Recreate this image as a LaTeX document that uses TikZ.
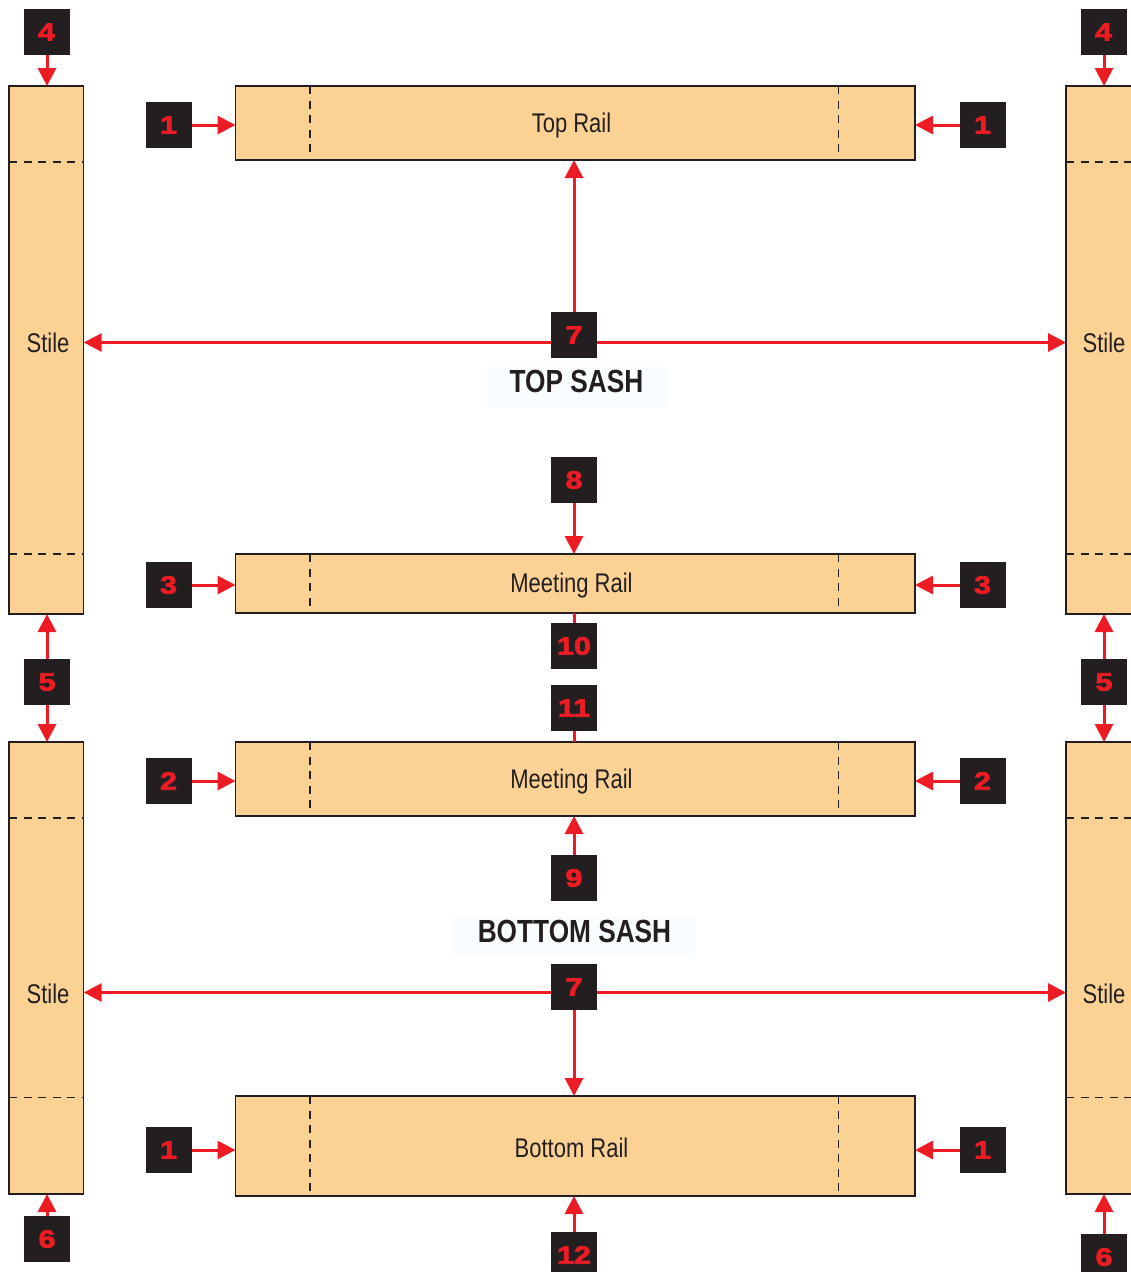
\documentclass[tikz,border=0pt]{standalone}
\usepackage{fontspec}
\usetikzlibrary{arrows.meta}
\setmainfont{Liberation Sans}
\newfontfamily\labelfont[FakeStretch=0.815]{Liberation Sans}
\newfontfamily\sashfont[FakeStretch=0.82]{Liberation Sans Bold}
\newfontfamily\badgefont[FakeBold=3,FakeStretch=1.22]{Liberation Sans Bold}
\definecolor{woodfill}{HTML}{FCD294}
\definecolor{redline}{HTML}{ED1C24}
\definecolor{badgebg}{HTML}{231F20}
\definecolor{sashbg}{HTML}{F9FDFF}
\tikzset{
  x=1pt,y=-1pt,
  wood/.style={fill=woodfill,draw=badgebg,line width=1.1pt,outer sep=0pt},
  cut/.style={draw=badgebg,line width=1.2pt,dash pattern=on 8pt off 6.5pt},
  arr/.style={draw=redline,line width=3pt,-{Triangle[length=18pt,width=18pt]}},
  tie/.style={draw=redline,line width=3pt},
  badge/.style={fill=badgebg,text=redline,minimum size=46pt,inner sep=0pt,outer sep=0pt,font=\badgefont\fontsize{25}{25}\selectfont},
  partname/.style={text=badgebg,inner sep=0pt,font=\labelfont\fontsize{27}{27}\selectfont},
  sash/.style={fill=sashbg,inner sep=0pt,outer sep=0pt,minimum height=41pt},
  sashtext/.style={text=badgebg,inner sep=0pt,font=\sashfont\fontsize{32}{32}\selectfont},
}
\newcommand{\woodbox}[5]{\node[wood,anchor=north west,minimum width=#4pt-#2pt,minimum height=#5pt-#3pt,inner sep=0pt] (#1) at (#2,#3) {};}
\begin{document}
\begin{tikzpicture}
\useasboundingbox (0,0) rectangle (1131,1272);
\clip (0,0) rectangle (1131,1272);
% stiles
\woodbox{stTL}{9}{86}{83.7}{614}
\woodbox{stTR}{1066}{86}{1141}{614}
\woodbox{stBL}{9}{742}{83.7}{1194}
\woodbox{stBR}{1066}{742}{1141}{1194}
% rails
\woodbox{railT}{235.5}{86}{915}{160}
\woodbox{railM}{235.5}{554}{915}{613}
\woodbox{railN}{235.5}{742}{915}{816}
\woodbox{railB}{235.5}{1096}{915}{1196}
% joint lines
\draw[cut] (stTL.west |- 0,162) -- (stTL.east |- 0,162);
\draw[cut] (stTL.west |- 0,554) -- (stTL.east |- 0,554);
\draw[cut] (stBL.west |- 0,818) -- (stBL.east |- 0,818);
\draw[cut] (stBL.west |- 0,1097.5) -- (stBL.east |- 0,1097.5);
\draw[cut] (stTR.west |- 0,162) -- (1131,162);
\draw[cut] (stTR.west |- 0,554) -- (1131,554);
\draw[cut] (stBR.west |- 0,818) -- (1131,818);
\draw[cut] (stBR.west |- 0,1097.5) -- (1131,1097.5);
\foreach \r in {railT,railM,railN,railB}{
  \draw[cut] (\r.north west -| 310,0) -- (\r.south west -| 310,0);
  \draw[cut] (\r.north west -| 838.5,0) -- (\r.south west -| 838.5,0);
}
% part names
\node[partname] (nSTL) at (48,343) {Stile};
\node[partname] (nSTR) at (1104,343) {Stile};
\node[partname] (nSBL) at (48,994) {Stile};
\node[partname] (nSBR) at (1104,994) {Stile};
\node[partname] (nT) at (571.5,125.5) {Top Rail};
\node[partname] (nM) at (571.5,585.5) {Meeting Rail};
\node[partname] (nN) at (571.5,781.5) {Meeting Rail};
\node[partname] (nB) at (571.5,1148) {Bottom Rail};
% sash titles
\node[sash,minimum width=180pt] (sT) at (577,386.5) {};
\node[sash,minimum width=243pt] (sB) at (574.5,936.5) {};
\node[sashtext] (tT) at (576.5,381.5) {TOP SASH};
\node[sashtext] (tB) at (574.5,931.5) {BOTTOM SASH};
% badges
\node[badge] (a4L) at (47,32) {\hspace*{-1pt}4};
\node[badge] (a4R) at (1104,32) {\hspace*{-1pt}4};
\node[badge] (a1TL) at (169,125) {\hspace*{-1pt}1};
\node[badge] (a1TR) at (983,125) {\hspace*{-1pt}1};
\node[badge] (a7T) at (574,335) {7};
\node[badge] (a8) at (574,480) {8};
\node[badge] (a3L) at (169,585) {\hspace*{-1pt}3};
\node[badge] (a3R) at (983,585) {\hspace*{-1pt}3};
\node[badge] (a10) at (574,646) {10};
\node[badge] (a11) at (574,708) {11};
\node[badge] (a5L) at (47,682) {5};
\node[badge] (a5R) at (1104,682) {5};
\node[badge] (a2L) at (169,781) {\hspace*{-1pt}2};
\node[badge] (a2R) at (983,781) {\hspace*{-1pt}2};
\node[badge] (a9) at (574,878) {9};
\node[badge] (a7B) at (574,987) {7};
\node[badge] (a1BL) at (169,1150) {\hspace*{-1pt}1};
\node[badge] (a1BR) at (983,1150) {\hspace*{-1pt}1};
\node[badge] (a6L) at (47,1239) {6};
\node[badge] (a6R) at (1104,1257) {6};
\node[badge] (a12) at (574,1255) {12};
% free ends of the horizontal lines
\coordinate (h7TL) at (551,342.5);
\coordinate (h7TR) at (597,342.5);
\coordinate (h7BL) at (551,992.5);
\coordinate (h7BR) at (597,992.5);
% connectors
\draw[arr] (a4L.south) -- (a4L.south |- stTL.north);
\draw[arr] (a4R.south) -- (a4R.south |- stTR.north);
\draw[arr] (a1TL.east) -- (a1TL.east -| railT.west);
\draw[arr] (a1TR.west) -- (a1TR.west -| railT.east);
\draw[arr] (a7T.north) -- (a7T.north |- railT.south);
\draw[arr] (h7TL) -- (h7TL -| stTL.east);
\draw[arr] (h7TR) -- (h7TR -| stTR.west);
\draw[arr] (a8.south) -- (a8.south |- railM.north);
\draw[arr] (a3L.east) -- (a3L.east -| railM.west);
\draw[arr] (a3R.west) -- (a3R.west -| railM.east);
\draw[tie] (a10.north) -- (a10.north |- railM.south);
\draw[tie] (a11.south) -- (a11.south |- railN.north);
\draw[arr] (a5L.north) -- (a5L.north |- stTL.south);
\draw[arr] (a5L.south) -- (a5L.south |- stBL.north);
\draw[arr] (a5R.north) -- (a5R.north |- stTR.south);
\draw[arr] (a5R.south) -- (a5R.south |- stBR.north);
\draw[arr] (a2L.east) -- (a2L.east -| railN.west);
\draw[arr] (a2R.west) -- (a2R.west -| railN.east);
\draw[arr] (a9.north) -- (a9.north |- railN.south);
\draw[arr] (h7BL) -- (h7BL -| stBL.east);
\draw[arr] (h7BR) -- (h7BR -| stBR.west);
\draw[arr] (a7B.south) -- (a7B.south |- railB.north);
\draw[arr] (a1BL.east) -- (a1BL.east -| railB.west);
\draw[arr] (a1BR.west) -- (a1BR.west -| railB.east);
\draw[arr] (a6L.north) -- (a6L.north |- stBL.south);
\draw[arr] (a6R.north) -- (a6R.north |- stBR.south);
\draw[arr] (a12.north) -- (a12.north |- railB.south);
\end{tikzpicture}
\end{document}
